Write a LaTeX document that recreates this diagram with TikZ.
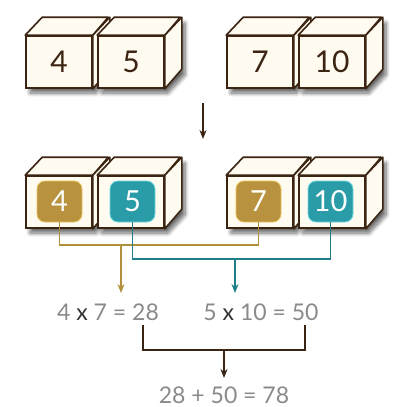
\documentclass[tikz,border=0pt]{standalone}
\usepackage{fontspec}
\setmainfont{Lato}
\usetikzlibrary{shadows.blur,arrows.meta,calc}
\definecolor{brown}{HTML}{3B2412}
\definecolor{cream}{HTML}{FFFBF0}
\definecolor{goldf}{HTML}{B8923E}
\definecolor{goldb}{HTML}{E6C35A}
\definecolor{goldl}{HTML}{B0903A}
\definecolor{tealf}{HTML}{2A9CA8}
\definecolor{tealb}{HTML}{6ED8E0}
\definecolor{teall}{HTML}{1E7F8A}
\definecolor{txtgray}{HTML}{8A8A8A}
\tikzset{
  cubefront/.style={draw=brown,line width=1.6pt,fill=cream,minimum width=66pt,minimum height=52pt,inner sep=0pt},
  cubeface/.style={draw=brown,line width=1.6pt,fill=cream,line join=round},
  cubenum/.style={text=brown,font=\fontsize{30}{30}\selectfont},
  badge/.style={draw=#1b,fill=#1f,line width=0.8pt,rounded corners=8pt,minimum width=45pt,minimum height=41pt,inner sep=0pt,text=white,font=\fontsize{29}{29}\selectfont},
  lbl/.style={text=txtgray,font=\fontsize{23}{23}\selectfont,inner sep=0pt},
  conn/.style={line width=1.6pt},
  tip/.style={-{Stealth[length=9pt,width=7pt,inset=3pt]}},
}
\newcommand{\mycube}[3]{%
  \fill[black!35,blur shadow={shadow xshift=4pt,shadow yshift=-5pt,shadow blur steps=8,shadow blur radius=4pt,shadow opacity=60}]
    (#2,#3) -- ++(17,-18) -- ++(66,0) -- ++(0,52) -- ++(-17,18) -- ++(-66,0) -- cycle;
  \node[cubefront] (#1) at (#2+33,#3+26) {};
  \draw[cubeface] (#1.north west) -- ++(17,-18) -- ++(66,0) -- (#1.north east) -- cycle;
  \draw[cubeface] (#1.north east) -- ++(17,-18) -- ++(0,52) -- (#1.south east) -- cycle;
}
\begin{document}
\begin{tikzpicture}[x=1pt,y=-1pt]
\useasboundingbox (0,0) rectangle (408,407);
% top row
\mycube{t1}{26}{36}
\mycube{t2}{98}{36}
\mycube{t3}{227}{36}
\mycube{t4}{299}{36}
\node[cubenum] (n1) at (t1) {4};
\node[cubenum] (n2) at (t2) {5};
\node[cubenum] (n3) at (t3) {7};
\node[cubenum] (n4) at (t4) {10};
% arrow between rows
\coordinate (a0) at (203,103);
\coordinate (a1) at (203,139);
\draw[brown,line width=1.8pt,tip] (a0) -- (a1);
% middle row
\mycube{m1}{26}{176}
\mycube{m2}{98}{176}
\mycube{m3}{227}{176}
\mycube{m4}{299}{176}
\node[badge=gold] (b1) at (59.5,201.5) {4};
\node[badge=teal] (b2) at (132.5,201.5) {5};
\node[badge=gold] (b3) at (258.5,201.5) {7};
\node[badge=teal] (b4) at (330.5,201.5) {10};
% connectors
\draw[goldl,conn] (b1.south) -- (b1.south |- 0,245) -| (b3.south);
\draw[teall,conn] (b2.south) -- (b2.south |- 0,259) -| (b4.south);
\coordinate (g0) at (121,245);
\coordinate (g1) at (121,293);
\coordinate (h0) at (235,259);
\coordinate (h1) at (235,293);
\draw[goldl,line width=1.6pt,tip] (g0) -- (g1);
\draw[teall,line width=1.6pt,tip] (h0) -- (h1);
% labels
\node[lbl] (p1) at (108,312) {4 {\color{black!80}x} 7 = 28};
\node[lbl] (p2) at (261,312) {5 {\color{black!80}x} 10 = 50};
\coordinate (k0) at (143,325);
\coordinate (k1) at (305,325);
\draw[brown,conn] (k0) -- (143,350) -- (305,350) -- (k1);
\coordinate (s0) at (224,350);
\coordinate (s1) at (224,378);
\draw[brown,line width=1.6pt,tip] (s0) -- (s1);
\node[lbl] (sum) at (224,395) {28 + 50 = 78};
\end{tikzpicture}
\end{document}
